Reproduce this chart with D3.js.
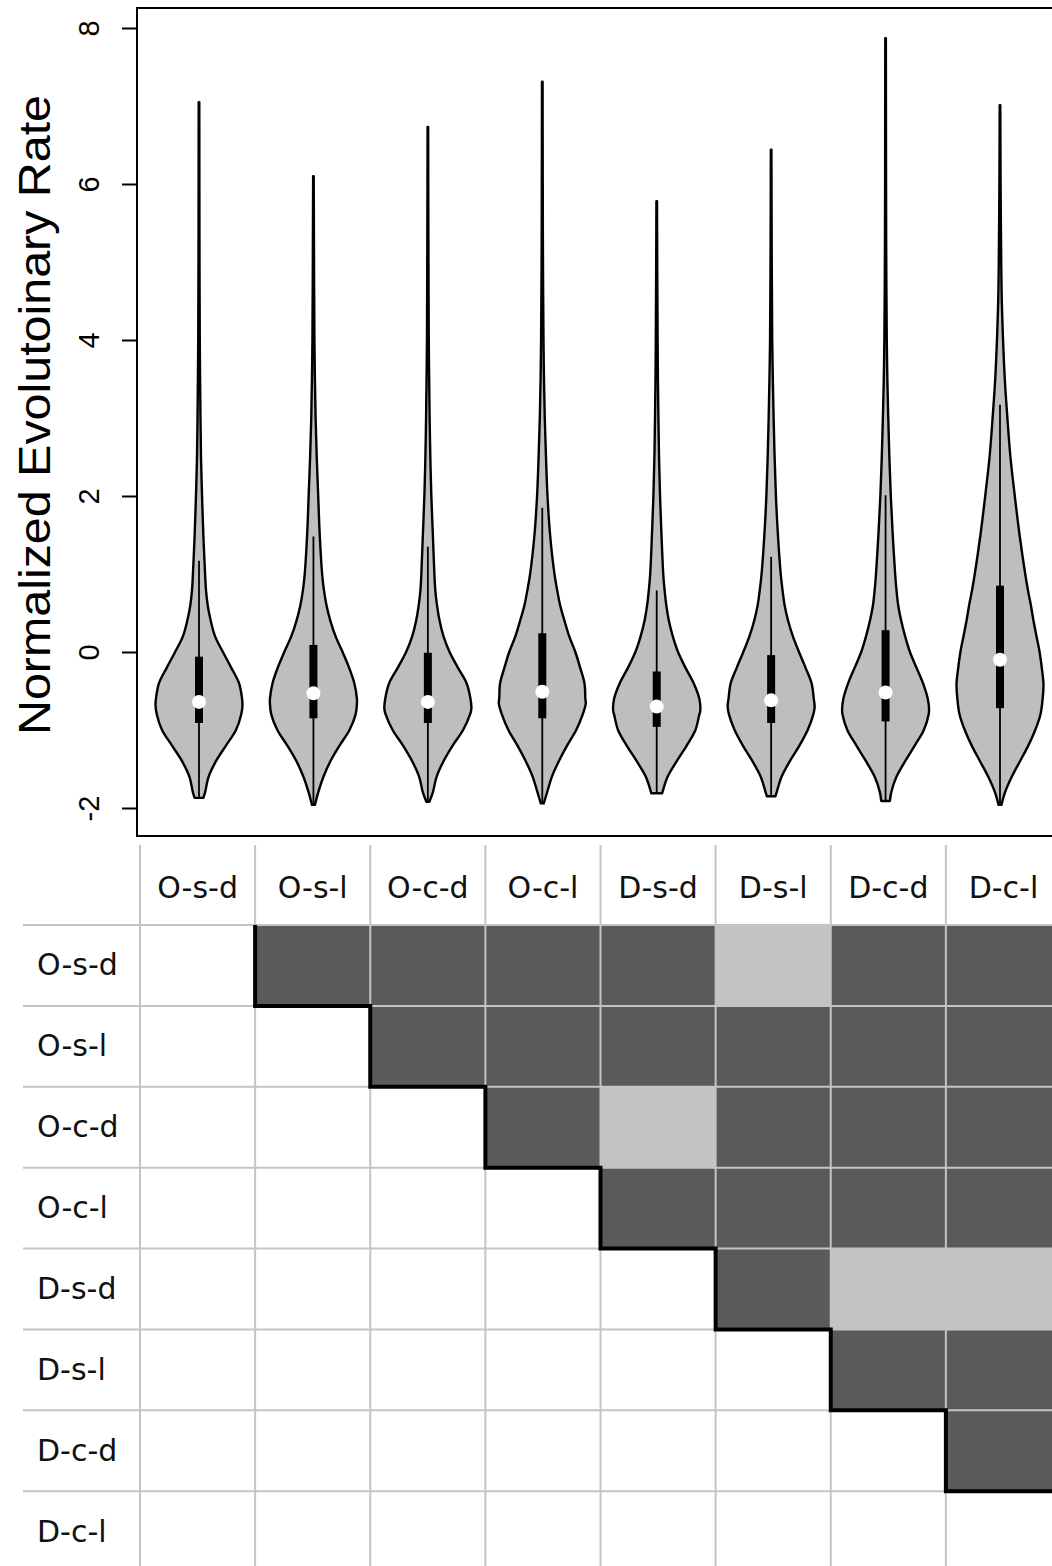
<!DOCTYPE html>
<html>
<head>
<meta charset="utf-8">
<script src="https://cdn.jsdelivr.net/npm/d3@7"></script>
<style>
  html, body { margin: 0; padding: 0; background: #fff; }
  svg { display: block; }
</style>
</head>
<body>
<svg id="chart" width="1052" height="1566"></svg>
<script>
// ---------------- DATA ----------------
const categories = ["O-s-d", "O-s-l", "O-c-d", "O-c-l", "D-s-d", "D-s-l", "D-c-d", "D-c-l"];
const yTicks = [-2, 0, 2, 4, 6, 8];
const yTickLabels = ["-2", "0", "2", "4", "6", "8"];
const yLabel = "Normalized Evolutoinary Rate";

// box statistics
const mins      = [-1.87, -1.96, -1.92, -1.94, -1.81, -1.85, -1.91, -1.96];
const maxs      = [ 7.05,  6.10,  6.73,  7.31,  5.78,  6.44,  7.87,  7.01];
const q1s       = [-0.91, -0.85, -0.91, -0.85, -0.96, -0.91, -0.89, -0.72];
const q3s       = [-0.06,  0.09, -0.01,  0.24, -0.25, -0.04,  0.28,  0.85];
const medians   = [-0.64, -0.53, -0.64, -0.51, -0.70, -0.62, -0.52, -0.10];
const upperWhiskers = [1.17, 1.48, 1.35, 1.85, 0.79, 1.22, 2.01, 3.17];

// relative density profiles [value, density % of peak]
const density_Osd = [[-1.87,10],[-1.8,14],[-1.6,22],[-1.4,39],[-1.2,62],[-1.0,85],[-0.8,97],[-0.68,100],[-0.6,99],[-0.4,92],[-0.2,74],[0,55],[0.2,37],[0.4,27],[0.6,20],[0.8,16],[1.0,14],[1.5,10],[2.0,7],[2.5,4.6],[3.0,3.4],[3.5,2.5],[4.0,1.8],[5.0,1.2],[6.0,0.9],[7.05,0.7]];
const density_Osl = [[-1.96,3.4],[-1.8,11],[-1.6,23],[-1.4,39],[-1.2,60],[-1.0,83],[-0.8,97],[-0.66,100],[-0.6,100],[-0.4,94],[-0.2,82],[0,67],[0.2,51],[0.4,39],[0.6,30],[0.8,24],[1.0,20],[1.5,14.5],[2.0,11],[2.5,7.6],[3.0,5],[3.5,3.4],[4.0,2.3],[5.0,1.4],[6.1,0.7]];
const density_Ocd = [[-1.92,3.4],[-1.8,11.5],[-1.6,20],[-1.4,36],[-1.2,57],[-1.0,81],[-0.8,97],[-0.73,100],[-0.6,98],[-0.4,89],[-0.2,69],[0,50],[0.2,36],[0.4,27],[0.6,21],[0.8,17],[1.0,15],[1.5,11.5],[2.0,8],[2.5,5.7],[3.0,4.1],[3.5,3],[4.0,2.1],[5.0,1.4],[6.0,0.9],[6.73,0.7]];
const density_Ocl = [[-1.94,3.4],[-1.8,11],[-1.6,22],[-1.4,38],[-1.2,57],[-1.0,78],[-0.8,93],[-0.66,100],[-0.6,99],[-0.4,97],[-0.2,87],[0,76],[0.2,62],[0.4,51],[0.6,41],[0.8,34],[1.0,28],[1.5,18],[2.0,12],[2.5,8.5],[3.0,5.7],[3.5,3.9],[4.0,2.8],[5.0,1.6],[6.0,1.1],[7.31,0.7]];
const density_Dsd = [[-1.81,12.6],[-1.6,25],[-1.4,46],[-1.2,69],[-1.0,89],[-0.8,98],[-0.76,100],[-0.6,98],[-0.4,85],[-0.2,66],[0,49],[0.2,37],[0.4,28],[0.6,22],[0.8,18],[1.0,15],[1.5,11],[2.0,7.6],[2.5,5.3],[3.0,3.9],[3.5,2.8],[4.0,2.1],[5.0,1.2],[5.78,0.7]];
const density_Dsl = [[-1.85,10],[-1.8,12.6],[-1.6,24],[-1.4,43],[-1.2,65],[-1.0,84],[-0.8,97],[-0.7,100],[-0.6,98],[-0.4,93],[-0.2,79],[0,64],[0.2,50],[0.4,39],[0.6,31],[0.8,26],[1.0,22],[1.5,15.6],[2.0,11],[2.5,8],[3.0,5.7],[3.5,3.9],[4.0,2.5],[5.0,1.4],[6.44,0.7]];
const density_Dcd = [[-1.91,10],[-1.8,13],[-1.6,25],[-1.4,45],[-1.2,67],[-1.0,88],[-0.8,99],[-0.74,100],[-0.6,97],[-0.4,86],[-0.2,71],[0,56],[0.2,45],[0.4,36],[0.6,29],[0.8,25],[1.0,22],[1.5,16.5],[2.0,12],[2.5,8.7],[3.0,6.2],[3.5,4.1],[4.0,2.8],[5.0,1.6],[6.0,1.1],[7.87,0.7]];
const density_Dcl = [[-1.96,3.4],[-1.8,11.5],[-1.6,27],[-1.4,46],[-1.2,65],[-1.0,81],[-0.8,93],[-0.6,98],[-0.42,100],[-0.2,96],[0,91],[0.2,84],[0.4,77],[0.6,71],[0.8,64],[1.0,58],[1.5,45],[2.0,34],[2.5,24],[3.0,17],[3.5,11],[4.0,7],[4.5,4.1],[5.0,2.8],[6.0,1.4],[7.01,0.7]];
const densities = [density_Osd, density_Osl, density_Ocd, density_Ocl, density_Dsd, density_Dsl, density_Dcd, density_Dcl];

// pairwise comparison matrix (upper triangle): 1 = significant (dark), 0 = not significant (light)
const sigRow_Osd = [1, 1, 1, 1, 0, 1, 1];
const sigRow_Osl = [1, 1, 1, 1, 1, 1];
const sigRow_Ocd = [1, 0, 1, 1, 1];
const sigRow_Ocl = [1, 1, 1, 1];
const sigRow_Dsd = [1, 0, 0];
const sigRow_Dsl = [1, 1];
const sigRow_Dcd = [1];
const sigRows = [sigRow_Osd, sigRow_Osl, sigRow_Ocd, sigRow_Ocl, sigRow_Dsd, sigRow_Dsl, sigRow_Dcd, []];

// ---------------- DRAW ----------------
const svg = d3.select("#chart");

// --- violin panel ---
const plotLeft = 137, plotTop = 8, plotBottom = 836, plotRight = 1064;
const y = d3.scaleLinear().domain([-2, 8]).range([808, 28]);
const x = d3.scalePoint().domain(categories).range([199, 1000]);
const w = d3.scaleLinear().domain([0, 100]).range([0, 43.5]);

const vg = svg.append("g");

categories.forEach((cat, i) => {
  const cx = x(cat);
  const prof = densities[i];
  const area = d3.area()
    .curve(d3.curveCatmullRom.alpha(0.5))
    .y(d => y(d[0]))
    .x0(d => cx - w(d[1]))
    .x1(d => cx + w(d[1]));
  vg.append("path")
    .attr("d", area(prof))
    .attr("fill", "#bebebe")
    .attr("stroke", "#000")
    .attr("stroke-width", 2.4)
    .attr("stroke-linejoin", "round");
  // whisker line (lower adjacent to upper adjacent)
  vg.append("line")
    .attr("x1", cx).attr("x2", cx)
    .attr("y1", y(mins[i])).attr("y2", y(upperWhiskers[i]))
    .attr("stroke", "#000").attr("stroke-width", 1.8);
  // box
  vg.append("rect")
    .attr("x", cx - 4).attr("width", 8)
    .attr("y", y(q3s[i])).attr("height", y(q1s[i]) - y(q3s[i]))
    .attr("fill", "#000");
  // median
  vg.append("circle")
    .attr("cx", cx).attr("cy", y(medians[i])).attr("r", 7)
    .attr("fill", "#fff");
});

// frame
svg.append("rect")
  .attr("x", plotLeft).attr("y", plotTop)
  .attr("width", plotRight - plotLeft).attr("height", plotBottom - plotTop)
  .attr("fill", "none").attr("stroke", "#000").attr("stroke-width", 2);

// y axis
const axis = d3.axisLeft(y).tickValues(yTicks).tickSize(15)
  .tickFormat((d, i) => yTickLabels[i]);
const ag = svg.append("g").attr("transform", `translate(${plotLeft},0)`).call(axis);
ag.select(".domain").remove();
ag.selectAll(".tick line").attr("stroke", "#000").attr("stroke-width", 2);
ag.selectAll(".tick text")
  .attr("x", 0).attr("y", 0).attr("dy", null)
  .attr("text-anchor", "middle")
  .attr("transform", "translate(-38,0) rotate(-90)")
  .attr("font-family", "Liberation Sans, Arial, sans-serif")
  .attr("font-size", 29)
  .attr("fill", "#000");

svg.append("text")
  .attr("transform", "translate(50,415) rotate(-90)")
  .attr("text-anchor", "middle")
  .attr("font-family", "Liberation Sans, Arial, sans-serif")
  .attr("font-size", 45)
  .attr("textLength", 640)
  .attr("lengthAdjust", "spacingAndGlyphs")
  .attr("fill", "#000")
  .text(yLabel);

// --- comparison table ---
const col = d3.scaleBand().domain(categories).range([140, 1061]);
const row = d3.scaleBand().domain(categories).range([925, 1572]);
const headerTop = 845;
const tableLeft = 23;
const tg = svg.append("g");

// cells
categories.forEach((rc, i) => {
  sigRows[i].forEach((s, k) => {
    const cc = categories[i + 1 + k];
    tg.append("rect")
      .attr("x", col(cc)).attr("y", row(rc))
      .attr("width", col.bandwidth()).attr("height", row.bandwidth())
      .attr("fill", s ? "#5a5a5a" : "#c3c3c3");
  });
});

// grid lines
const gridColor = "#c4c4c4";
categories.forEach(c => {
  tg.append("line")
    .attr("x1", col(c)).attr("x2", col(c))
    .attr("y1", headerTop).attr("y2", 1566)
    .attr("stroke", gridColor).attr("stroke-width", 2);
  tg.append("line")
    .attr("x1", tableLeft).attr("x2", 1052)
    .attr("y1", row(c)).attr("y2", row(c))
    .attr("stroke", gridColor).attr("stroke-width", 2);
});
tg.append("line")
  .attr("x1", col.range()[1]).attr("x2", col.range()[1])
  .attr("y1", headerTop).attr("y2", 1566)
  .attr("stroke", gridColor).attr("stroke-width", 2);

// staircase boundary
const stair = [];
categories.slice(0, 7).forEach((rc, i) => {
  const cx = col(categories[i + 1]);
  stair.push([cx, row(rc)]);
  stair.push([cx, row(rc) + row.bandwidth()]);
});
stair.push([1060, row(categories[6]) + row.bandwidth()]);
tg.append("path")
  .attr("d", d3.line()(stair))
  .attr("fill", "none").attr("stroke", "#000").attr("stroke-width", 4)
  .attr("stroke-linejoin", "miter");

// header labels
const tFont = "DejaVu Sans, Verdana, sans-serif";
categories.forEach(c => {
  tg.append("text")
    .attr("x", col(c) + col.bandwidth() / 2).attr("y", 898)
    .attr("text-anchor", "middle")
    .attr("font-family", tFont).attr("font-size", 30)
    .attr("fill", "#111")
    .text(c);
  tg.append("text")
    .attr("x", 37).attr("y", row(c) + row.bandwidth() / 2 + 10)
    .attr("text-anchor", "start")
    .attr("font-family", tFont).attr("font-size", 30)
    .attr("fill", "#111")
    .text(c);
});
</script>
</body>
</html>
